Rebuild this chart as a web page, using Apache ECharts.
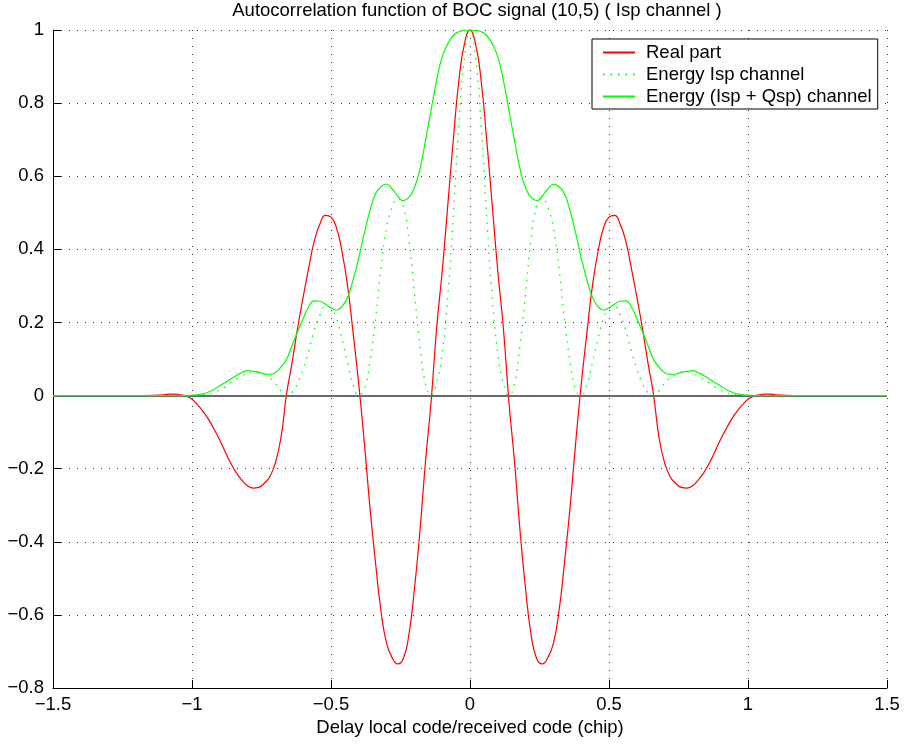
<!DOCTYPE html>
<html>
<head>
<meta charset="utf-8">
<title>Autocorrelation function of BOC signal (10,5)</title>
<script src="https://cdn.jsdelivr.net/npm/echarts@6/dist/echarts.min.js"></script>
<style>
  html, body { margin: 0; padding: 0; background: #fff; }
  #chart { width: 904px; height: 745px; }
</style>
</head>
<body>
<div id="chart"></div>
<script>
// Delay between local and received code, in chips
const delay = [
  -1.5, -1.4, -1.3, -1.2,
  -1.12, -1.1, -1.08, -1.06, -1.04, -1.02, -1,
  -0.98, -0.96, -0.94, -0.92, -0.9, -0.88, -0.86, -0.84, -0.82, -0.8,
  -0.78, -0.76, -0.74, -0.72, -0.7, -0.68, -0.66, -0.64, -0.62, -0.6,
  -0.58, -0.56, -0.54, -0.52, -0.5, -0.48, -0.46, -0.44, -0.42, -0.4,
  -0.38, -0.36, -0.34, -0.32, -0.3, -0.28, -0.26, -0.24, -0.22, -0.2,
  -0.18, -0.16, -0.14, -0.12, -0.1, -0.08, -0.06, -0.04, -0.02, 0,
  0.02, 0.04, 0.06, 0.08, 0.1, 0.12, 0.14, 0.16, 0.18, 0.2,
  0.22, 0.24, 0.26, 0.28, 0.3, 0.32, 0.34, 0.36, 0.38, 0.4,
  0.42, 0.44, 0.46, 0.48, 0.5, 0.52, 0.54, 0.56, 0.58, 0.6,
  0.62, 0.64, 0.66, 0.68, 0.7, 0.72, 0.74, 0.76, 0.78, 0.8,
  0.82, 0.84, 0.86, 0.88, 0.9, 0.92, 0.94, 0.96, 0.98, 1,
  1.02, 1.04, 1.06, 1.08, 1.1, 1.12,
  1.2, 1.3, 1.4, 1.5
];

// Real part of the correlation
const realPart = [
  0, 0, 0, 0,
  0.001, 0.002, 0.004, 0.004, 0.002, -0.002, -0.010,
  -0.025, -0.044, -0.066, -0.093, -0.122, -0.155, -0.186, -0.212, -0.232, -0.247,
  -0.253, -0.251, -0.240, -0.222, -0.184, -0.115, 0.003, 0.090, 0.185, 0.270,
  0.350, 0.423, 0.469, 0.493, 0.488, 0.458, 0.392, 0.298, 0.168, 0.030,
  -0.130, -0.305, -0.456, -0.590, -0.678, -0.717, -0.734, -0.720, -0.655, -0.530,
  -0.370, -0.180, -0.017, 0.185, 0.340, 0.520, 0.700, 0.862, 0.962, 1.000,
  0.962, 0.862, 0.700, 0.520, 0.340, 0.185, -0.017, -0.180, -0.370, -0.530,
  -0.655, -0.720, -0.734, -0.717, -0.678, -0.590, -0.456, -0.305, -0.130, 0.030,
  0.168, 0.298, 0.392, 0.458, 0.488, 0.493, 0.469, 0.423, 0.350, 0.270,
  0.185, 0.090, 0.003, -0.115, -0.184, -0.222, -0.240, -0.251, -0.253, -0.247,
  -0.232, -0.212, -0.186, -0.155, -0.122, -0.093, -0.066, -0.044, -0.025, -0.010,
  -0.002, 0.002, 0.004, 0.004, 0.002, 0.001,
  0, 0, 0, 0
];

// Energy of the Isp channel
const energyIsp = [
  0, 0, 0, 0,
  0, 0, 0, 0, 0, 0, 0,
  0.001, 0.002, 0.004, 0.009, 0.015, 0.024, 0.035, 0.045, 0.054, 0.061,
  0.064, 0.063, 0.058, 0.049, 0.034, 0.013, 0.000, 0.008, 0.034, 0.073,
  0.123, 0.179, 0.220, 0.243, 0.238, 0.210, 0.154, 0.089, 0.028, 0.001,
  0.017, 0.093, 0.208, 0.348, 0.460, 0.514, 0.539, 0.518, 0.429, 0.281,
  0.137, 0.032, 0.000, 0.034, 0.116, 0.270, 0.490, 0.743, 0.925, 1.000,
  0.925, 0.743, 0.490, 0.270, 0.116, 0.034, 0.000, 0.032, 0.137, 0.281,
  0.429, 0.518, 0.539, 0.514, 0.460, 0.348, 0.208, 0.093, 0.017, 0.001,
  0.028, 0.089, 0.154, 0.210, 0.238, 0.243, 0.220, 0.179, 0.123, 0.073,
  0.034, 0.008, 0.000, 0.013, 0.034, 0.049, 0.058, 0.063, 0.064, 0.061,
  0.054, 0.045, 0.035, 0.024, 0.015, 0.009, 0.004, 0.002, 0.001, 0,
  0, 0, 0, 0, 0, 0,
  0, 0, 0, 0
];

// Energy of the combined Isp + Qsp channels
const energyIspQsp = [
  0, 0, 0, 0,
  0, 0, 0, 0, 0, 0, 0.001,
  0.002, 0.005, 0.010, 0.017, 0.027, 0.036, 0.046, 0.055, 0.063, 0.068,
  0.066, 0.064, 0.059, 0.058, 0.063, 0.078, 0.099, 0.137, 0.175, 0.211,
  0.243, 0.259, 0.258, 0.250, 0.240, 0.234, 0.244, 0.270, 0.318, 0.377,
  0.445, 0.505, 0.552, 0.572, 0.578, 0.565, 0.546, 0.533, 0.542, 0.568,
  0.620, 0.698, 0.781, 0.863, 0.927, 0.962, 0.985, 0.995, 0.999, 1.000,
  0.999, 0.995, 0.985, 0.962, 0.927, 0.863, 0.781, 0.698, 0.620, 0.568,
  0.542, 0.533, 0.546, 0.565, 0.578, 0.572, 0.552, 0.505, 0.445, 0.377,
  0.318, 0.270, 0.244, 0.234, 0.240, 0.250, 0.258, 0.259, 0.243, 0.211,
  0.175, 0.137, 0.099, 0.078, 0.063, 0.058, 0.059, 0.064, 0.066, 0.068,
  0.063, 0.055, 0.046, 0.036, 0.027, 0.017, 0.010, 0.005, 0.002, 0.001,
  0, 0, 0, 0, 0, 0,
  0, 0, 0, 0
];

const seriesNames = ['Real part', 'Energy Isp channel', 'Energy (Isp + Qsp) channel'];
const titleText = 'Autocorrelation function of BOC signal (10,5) ( Isp channel )';
const xAxisTitle = 'Delay local code/received code (chip)';

const FONT = '"Liberation Sans", Arial, Helvetica, sans-serif';
const FS = 18.5;

const pairs = ys => delay.map((x, i) => [x, ys[i]]);
const minusSign = v => String(v).replace('-', '\u2212');

const chart = echarts.init(document.getElementById('chart'), null, { renderer: 'canvas' });

chart.setOption({
  animation: false,
  backgroundColor: '#ffffff',
  textStyle: { fontFamily: FONT },
  title: {
    text: titleText,
    left: 477,
    top: 1,
    padding: 0,
    textAlign: 'center',
    textStyle: { fontFamily: FONT, fontSize: FS, fontWeight: 'normal', color: '#000' }
  },
  grid: { left: 53, right: 17, top: 30, bottom: 57, containLabel: false },
  legend: {
    orient: 'vertical',
    left: 592,
    top: 39,
    backgroundColor: '#ffffff',
    borderColor: '#000000',
    borderWidth: 1,
    borderRadius: 0,
    padding: [4, 6, 3, 10],
    itemWidth: 32,
    itemHeight: 14,
    itemGap: 3,
    selectedMode: false,
    itemStyle: { opacity: 0 },
    textStyle: { fontFamily: FONT, fontSize: FS, color: '#000', lineHeight: 18, padding: [0, 0, 0, 6] },
    data: seriesNames
  },
  xAxis: {
    type: 'value',
    min: -1.5,
    max: 1.5,
    interval: 0.5,
    name: xAxisTitle,
    nameLocation: 'middle',
    nameGap: 20,
    nameTextStyle: { fontFamily: FONT, fontSize: FS, color: '#000', verticalAlign: 'top' },
    axisLine: { onZero: false, lineStyle: { color: '#000', width: 1 } },
    axisTick: { inside: true, length: 8, lineStyle: { color: '#000' } },
    axisLabel: { margin: 7, fontFamily: FONT, fontSize: FS, color: '#000', formatter: minusSign, hideOverlap: false },
    splitLine: { show: true, lineStyle: { color: '#333', width: 1, type: [1, 7] } }
  },
  yAxis: {
    type: 'value',
    min: -0.8,
    max: 1,
    interval: 0.2,
    axisLine: { show: true, onZero: false, lineStyle: { color: '#000', width: 1 } },
    axisTick: { show: true, inside: true, length: 8, lineStyle: { color: '#000' } },
    axisLabel: {
      margin: 9, fontFamily: FONT, fontSize: FS, color: '#000',
      formatter: v => minusSign(Math.round(v * 10) / 10)
    },
    splitLine: { show: true, lineStyle: { color: '#333', width: 1, type: [1, 7] } }
  },
  series: [
    {
      name: seriesNames[0],
      type: 'line',
      data: pairs(realPart),
      symbol: 'none',
      smooth: 0.5,
      lineStyle: { color: '#ff0000', width: 1.2 },
      itemStyle: { color: '#ff0000' },
      markLine: {
        silent: true,
        symbol: ['none', 'none'],
        label: { show: false },
        lineStyle: { color: '#6a6a6a', width: 2, type: 'solid' },
        data: [{ yAxis: 0 }]
      },
      z: 3
    },
    {
      name: seriesNames[1],
      type: 'line',
      data: pairs(energyIsp),
      symbol: 'none',
      smooth: 0.5,
      lineStyle: { color: '#00ff00', width: 1.3, type: [1.5, 6] },
      itemStyle: { color: '#00ff00' },
      z: 4
    },
    {
      name: seriesNames[2],
      type: 'line',
      data: pairs(energyIspQsp),
      symbol: 'none',
      smooth: 0.5,
      lineStyle: { color: '#00ff00', width: 1.2 },
      itemStyle: { color: '#00ff00' },
      z: 5
    }
  ]
});
</script>
</body>
</html>
